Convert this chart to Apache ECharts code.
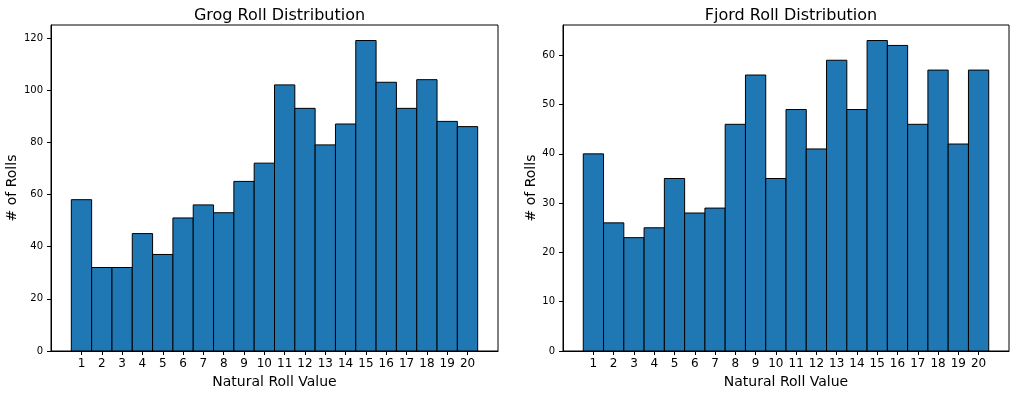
<!DOCTYPE html>
<html>
<head>
<meta charset="utf-8">
<script src="https://cdn.jsdelivr.net/npm/echarts@6/dist/echarts.min.js"></script>
<style>
html,body{margin:0;padding:0;background:#fff;}
#chart{width:1023px;height:396px;}
</style>
</head>
<body>
<div id="chart"></div>
<script>
const rollValues = [1,2,3,4,5,6,7,8,9,10,11,12,13,14,15,16,17,18,19,20];
const grogCounts = [58,32,32,45,37,51,56,53,65,72,102,93,79,87,119,103,93,104,88,86];
const fjordCounts = [40,26,23,25,35,28,29,46,56,35,49,41,59,49,63,62,46,57,42,57];
const grogYTicks = [0,20,40,60,80,100,120];
const fjordYTicks = [0,10,20,30,40,50,60];
const titles = ['Grog Roll Distribution','Fjord Roll Distribution'];
const xName = 'Natural Roll Value';
const yName = '# of Rolls';

const FONT = 'DejaVu Sans';
const chart = echarts.init(document.getElementById('chart'), null, {renderer:'canvas'});

function renderBar(params, api){
  const x = api.value(0), v = api.value(1);
  const p0 = api.coord([x - 0.5, v]);
  const p1 = api.coord([x + 0.5, 0]);
  return {
    type:'rect',
    shape:{x:p0[0], y:p0[1], width:p1[0]-p0[0], height:p1[1]-p0[1]},
    style:{fill:'#1f77b4', stroke:'#000', lineWidth:1}
  };
}

const grids = [
  {left:51, top:25, width:447, height:326},
  {left:563, top:25, width:446, height:326}
];
const yMax = [Math.max(...grogCounts)*1.05, Math.max(...fjordCounts)*1.05];
const yTicks = [grogYTicks, fjordYTicks];
const dataSets = [grogCounts, fjordCounts];

const option = {
  animation:false,
  backgroundColor:'#fff',
  title: titles.map((t,i)=>({
    text:t, left: grids[i].left + grids[i].width/2, top:3, textAlign:'center',
    textStyle:{fontFamily:FONT, fontSize:16, fontWeight:'normal', color:'#000'}
  })),
  grid: grids.map(g=>Object.assign({show:true, borderColor:'#000', borderWidth:1, backgroundColor:'transparent', containLabel:false, outerBoundsMode:'none'}, g)),
  xAxis: grids.map((g,i)=>({
    type:'value', gridIndex:i, min:-0.5, max:21.5, position:'bottom',
    name:xName, nameLocation:'middle', nameGap:24,
    nameTextStyle:{fontFamily:FONT, fontSize:14, color:'#000'},
    axisLine:{show:true, onZero:false, lineStyle:{color:'#000', width:1}},
    splitLine:{show:false},
    axisTick:{show:true, inside:false, customValues:rollValues, length:4, lineStyle:{color:'#000', width:1}},
    axisLabel:{customValues:rollValues, inside:false, fontFamily:FONT, fontSize:12, color:'#000', margin:7}
  })),
  yAxis: grids.map((g,i)=>({
    type:'value', gridIndex:i, min:0, max:yMax[i], position:'left',
    name:yName, nameLocation:'middle', nameGap: i===0 ? 32 : 24,
    nameTextStyle:{fontFamily:FONT, fontSize:14, color:'#000'},
    axisLine:{show:true, onZero:false, lineStyle:{color:'#000', width:1}},
    splitLine:{show:false},
    axisTick:{show:true, inside:false, customValues:yTicks[i], length:4, lineStyle:{color:'#000', width:1}},
    axisLabel:{customValues:yTicks[i], inside:false, fontFamily:FONT, fontSize:10, color:'#000', margin:8}
  })),
  series: dataSets.map((d,i)=>({
    type:'custom', xAxisIndex:i, yAxisIndex:i,
    renderItem: renderBar,
    encode:{x:0, y:1},
    data: rollValues.map((r,k)=>[r, d[k]])
  }))
};
chart.setOption(option);
</script>
</body>
</html>
